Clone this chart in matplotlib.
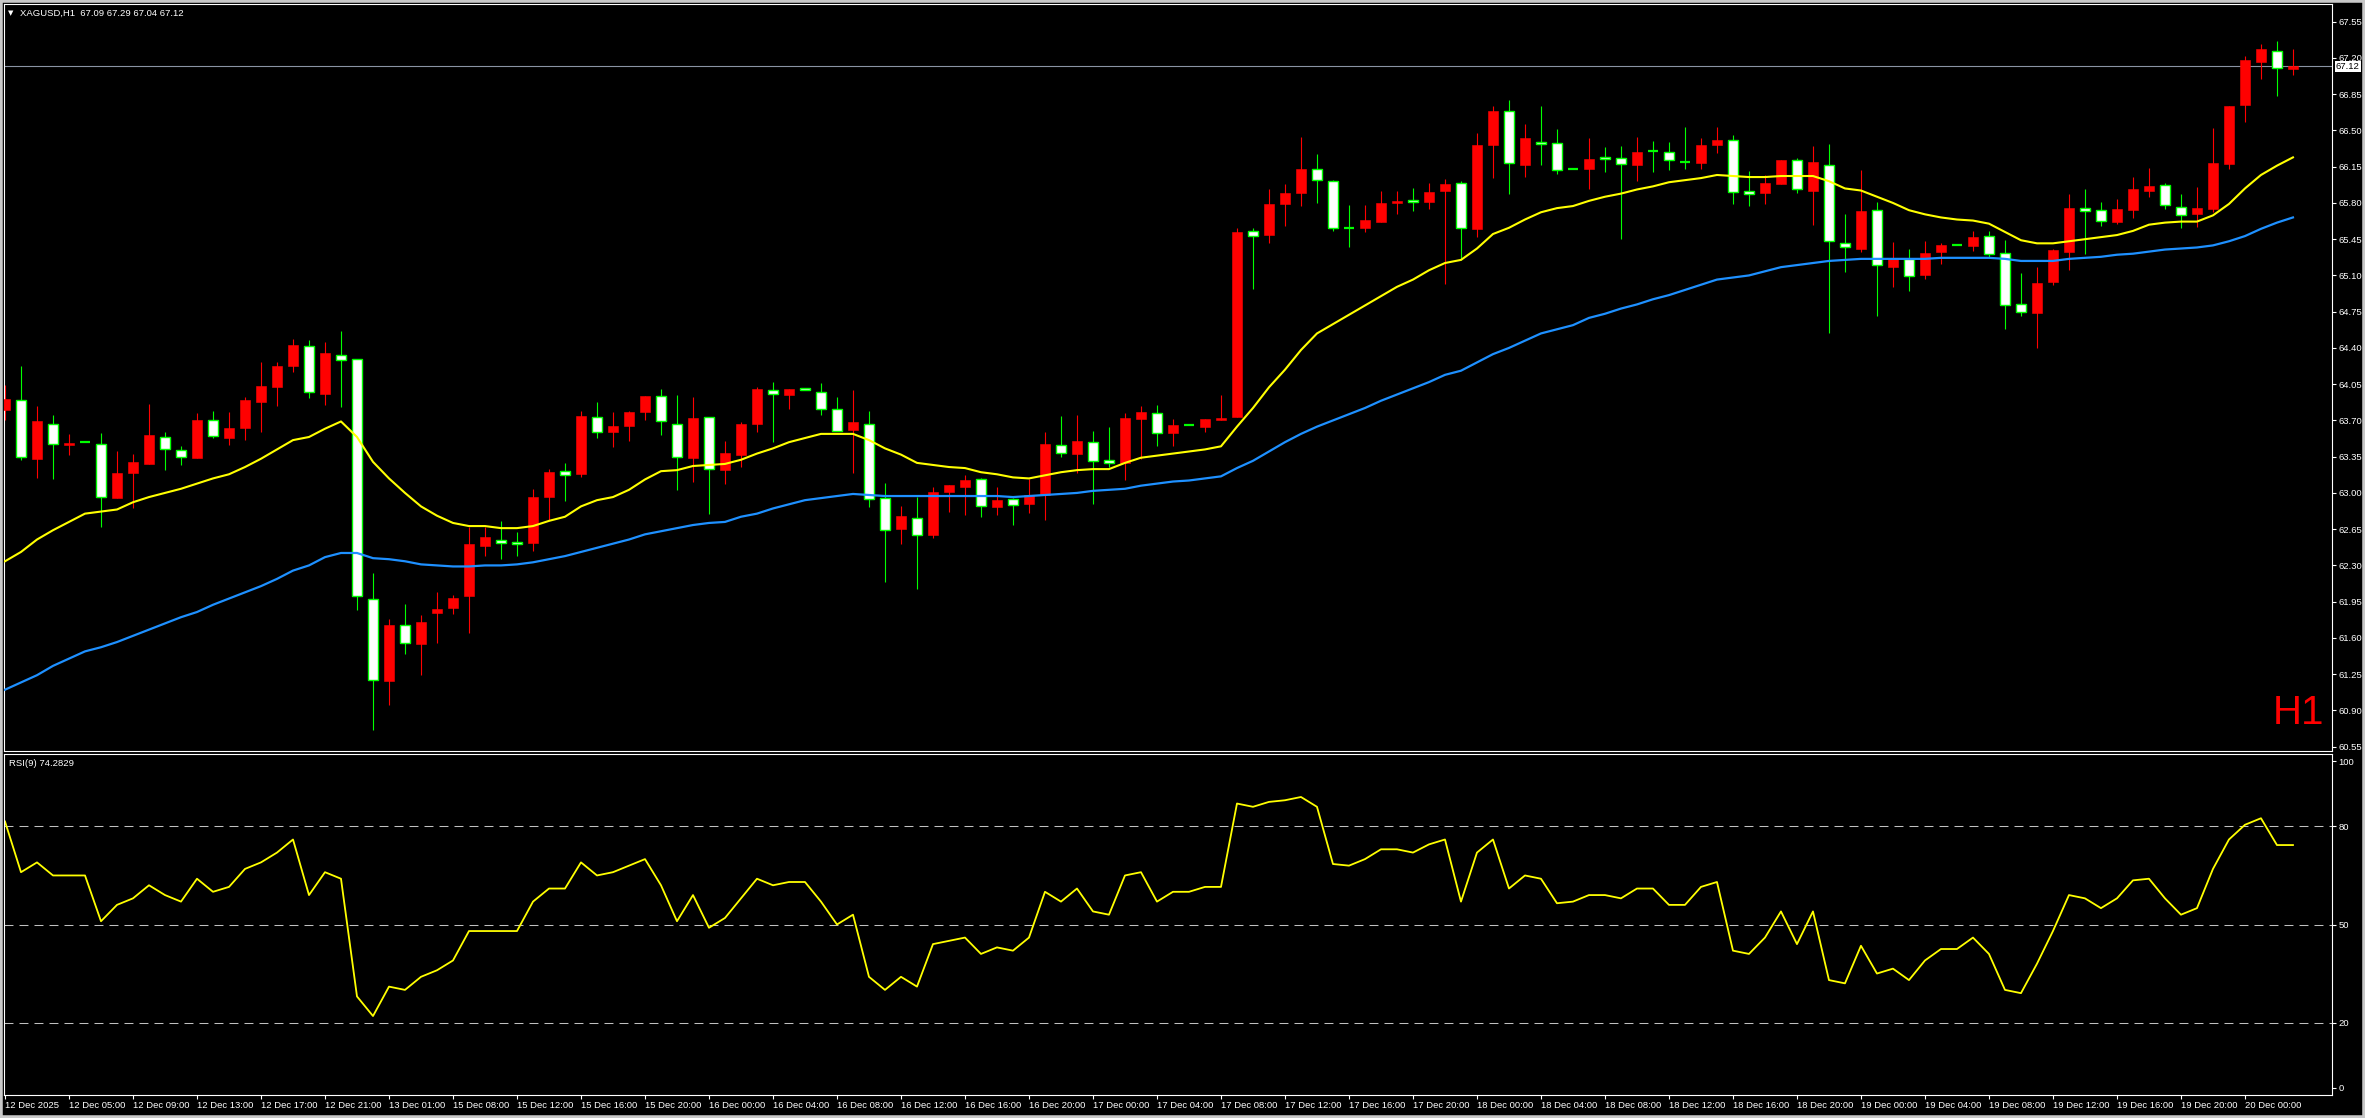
import matplotlib
matplotlib.use("Agg")
import matplotlib.pyplot as plt
from matplotlib.patches import Rectangle
from matplotlib.transforms import blended_transform_factory

# XAGUSD H1 candles, 12 Dec 2025 .. 20 Dec 2025
opens = [63.80, 63.90, 63.33, 63.67, 63.46, 63.49, 63.47, 62.95, 63.19, 63.28,
         63.54, 63.41, 63.34, 63.70, 63.53, 63.63, 63.88, 64.02, 64.23, 64.42,
         63.96, 64.33, 64.29, 61.98, 61.18, 61.72, 61.54, 61.84, 61.89, 62.00,
         62.49, 62.55, 62.53, 62.52, 62.96, 63.21, 63.18, 63.73, 63.59, 63.65,
         63.78, 63.94, 63.67, 63.34, 63.73, 63.22, 63.37, 63.67, 63.99, 63.95,
         64.01, 63.97, 63.81, 63.61, 63.67, 62.95, 62.65, 62.76, 62.59, 63.01,
         63.06, 63.13, 62.86, 62.94, 62.89, 62.98, 63.46, 63.38, 63.49, 63.32,
         63.29, 63.71, 63.77, 63.58, 63.66, 63.64, 63.70, 63.73, 65.53, 65.49,
         65.79, 65.90, 66.13, 66.01, 65.56, 65.56, 65.62, 65.80, 65.83, 65.81,
         65.92, 65.99, 65.55, 66.36, 66.69, 66.17, 66.39, 66.38, 66.13, 66.13,
         66.24, 66.23, 66.17, 66.30, 66.29, 66.20, 66.19, 66.36, 66.41, 65.92,
         65.90, 65.98, 66.21, 65.92, 66.17, 65.41, 65.36, 65.73, 65.18, 65.26,
         65.10, 65.33, 65.39, 65.38, 65.48, 65.32, 64.82, 64.74, 65.04, 65.33,
         65.75, 65.73, 65.62, 65.73, 65.92, 65.97, 65.76, 65.69, 65.74, 66.18,
         66.75, 67.16, 67.27, 67.09]
highs = [64.04, 64.23, 63.84, 63.75, 63.57, 63.49, 63.58, 63.40, 63.38, 63.86,
         63.59, 63.45, 63.77, 63.79, 63.78, 63.93, 64.26, 64.26, 64.49, 64.48,
         64.46, 64.56, 64.29, 62.23, 61.78, 61.93, 61.82, 62.04, 62.01, 62.67,
         62.67, 62.73, 62.62, 63.04, 63.23, 63.29, 63.79, 63.88, 63.78, 63.79,
         63.94, 64.00, 63.95, 63.93, 63.73, 63.50, 63.68, 64.02, 64.07, 64.00,
         64.01, 64.06, 63.93, 63.99, 63.79, 63.10, 62.87, 62.96, 63.06, 63.08,
         63.17, 63.14, 63.06, 62.95, 63.13, 63.59, 63.74, 63.75, 63.60, 63.64,
         63.77, 63.84, 63.85, 63.71, 63.66, 63.71, 63.95, 65.56, 65.56, 65.93,
         65.98, 66.44, 66.27, 66.02, 65.78, 65.78, 65.92, 65.92, 65.94, 65.99,
         66.03, 66.01, 66.48, 66.74, 66.79, 66.56, 66.74, 66.51, 66.13, 66.43,
         66.34, 66.35, 66.44, 66.40, 66.39, 66.53, 66.43, 66.53, 66.46, 66.11,
         66.07, 66.21, 66.23, 66.35, 66.37, 65.69, 66.12, 65.81, 65.42, 65.36,
         65.43, 65.41, 65.39, 65.53, 65.53, 65.44, 65.12, 65.18, 65.36, 65.89,
         65.93, 65.81, 65.84, 66.05, 66.14, 65.99, 65.89, 65.95, 66.52, 66.74,
         67.22, 67.33, 67.36, 67.29]
lows = [63.70, 63.32, 63.14, 63.13, 63.37, 63.49, 62.67, 62.95, 62.85, 63.28,
        63.22, 63.27, 63.34, 63.53, 63.46, 63.51, 63.59, 63.84, 64.17, 63.92,
        63.85, 63.83, 61.87, 60.71, 60.95, 61.44, 61.24, 61.55, 61.83, 61.65,
        62.39, 62.36, 62.39, 62.44, 62.74, 62.92, 63.15, 63.53, 63.44, 63.50,
        63.70, 63.56, 63.03, 63.11, 62.80, 63.09, 63.25, 63.59, 63.49, 63.81,
        63.99, 63.75, 63.60, 63.19, 62.86, 62.14, 62.51, 62.07, 62.56, 62.82,
        62.79, 62.77, 62.79, 62.69, 62.81, 62.74, 63.35, 63.19, 62.89, 63.25,
        63.12, 63.33, 63.45, 63.45, 63.66, 63.59, 63.70, 63.73, 64.97, 65.41,
        65.58, 65.77, 65.80, 65.53, 65.37, 65.52, 65.62, 65.69, 65.72, 65.74,
        65.02, 65.25, 65.47, 66.04, 65.89, 66.05, 66.17, 66.08, 66.13, 65.93,
        66.10, 65.45, 66.01, 66.10, 66.12, 66.13, 66.13, 66.28, 65.79, 65.77,
        65.79, 65.98, 65.90, 65.59, 64.54, 65.13, 65.33, 64.71, 64.99, 64.95,
        65.07, 65.21, 65.39, 65.34, 65.27, 64.58, 64.71, 64.40, 65.01, 65.15,
        65.31, 65.58, 65.60, 65.65, 65.86, 65.74, 65.56, 65.57, 65.71, 66.13,
        66.58, 67.00, 66.83, 67.04]
closes = [63.91, 63.35, 63.69, 63.47, 63.48, 63.49, 62.96, 63.19, 63.30, 63.56,
          63.42, 63.35, 63.70, 63.55, 63.63, 63.90, 64.03, 64.23, 64.43, 63.97,
          64.35, 64.28, 62.00, 61.19, 61.72, 61.55, 61.75, 61.88, 61.99, 62.51,
          62.57, 62.52, 62.51, 62.96, 63.20, 63.17, 63.74, 63.59, 63.65, 63.78,
          63.94, 63.69, 63.35, 63.72, 63.23, 63.39, 63.67, 64.00, 63.96, 64.00,
          63.99, 63.81, 63.60, 63.68, 62.94, 62.64, 62.78, 62.59, 63.01, 63.08,
          63.12, 62.87, 62.93, 62.88, 62.98, 63.47, 63.39, 63.50, 63.31, 63.29,
          63.72, 63.78, 63.58, 63.66, 63.66, 63.71, 63.72, 65.52, 65.48, 65.79,
          65.90, 66.13, 66.02, 65.56, 65.56, 65.64, 65.80, 65.82, 65.81, 65.91,
          65.98, 65.56, 66.36, 66.69, 66.19, 66.43, 66.37, 66.12, 66.13, 66.22,
          66.22, 66.18, 66.29, 66.30, 66.21, 66.20, 66.36, 66.41, 65.91, 65.89,
          65.99, 66.21, 65.93, 66.20, 65.43, 65.37, 65.72, 65.20, 65.26, 65.09,
          65.32, 65.39, 65.39, 65.47, 65.31, 64.81, 64.75, 65.03, 65.35, 65.75,
          65.72, 65.63, 65.74, 65.93, 65.96, 65.78, 65.68, 65.75, 66.19, 66.74,
          67.18, 67.29, 67.10, 67.12]

# moving averages (yellow fast, blue slow)
ma_fast = [62.34, 62.43, 62.55, 62.64, 62.72, 62.80, 62.82, 62.84, 62.91, 62.96,
           63.00, 63.04, 63.09, 63.14, 63.18, 63.25, 63.33, 63.42, 63.51, 63.54,
           63.62, 63.69, 63.54, 63.30, 63.14, 63.00, 62.87, 62.78, 62.71, 62.68,
           62.68, 62.66, 62.66, 62.68, 62.73, 62.77, 62.87, 62.93, 62.96, 63.03,
           63.13, 63.21, 63.22, 63.26, 63.27, 63.28, 63.32, 63.38, 63.43, 63.49,
           63.53, 63.57, 63.57, 63.57, 63.51, 63.43, 63.37, 63.29, 63.27, 63.25,
           63.24, 63.20, 63.18, 63.15, 63.14, 63.17, 63.20, 63.22, 63.23, 63.23,
           63.29, 63.34, 63.36, 63.38, 63.40, 63.42, 63.45, 63.64, 63.82, 64.02,
           64.19, 64.38, 64.54, 64.63, 64.72, 64.81, 64.90, 64.99, 65.06, 65.15,
           65.22, 65.25, 65.36, 65.50, 65.56, 65.64, 65.71, 65.75, 65.77, 65.82,
           65.86, 65.89, 65.93, 65.96, 66.00, 66.02, 66.04, 66.07, 66.06, 66.05,
           66.05, 66.06, 66.06, 66.06, 66.01, 65.94, 65.92, 65.86, 65.80, 65.73,
           65.69, 65.66, 65.64, 65.63, 65.60, 65.52, 65.44, 65.41, 65.41, 65.43,
           65.45, 65.47, 65.49, 65.53, 65.59, 65.61, 65.62, 65.62, 65.68, 65.79,
           65.94, 66.07, 66.16, 66.24]
ma_slow = [61.10, 61.17, 61.24, 61.33, 61.40, 61.47, 61.51, 61.56, 61.62, 61.68,
           61.74, 61.80, 61.85, 61.92, 61.98, 62.04, 62.10, 62.17, 62.25, 62.30,
           62.38, 62.42, 62.42, 62.37, 62.36, 62.34, 62.31, 62.30, 62.29, 62.29,
           62.30, 62.30, 62.31, 62.33, 62.36, 62.39, 62.43, 62.47, 62.51, 62.55,
           62.60, 62.63, 62.66, 62.69, 62.71, 62.72, 62.77, 62.80, 62.85, 62.89,
           62.93, 62.95, 62.97, 62.99, 62.98, 62.97, 62.97, 62.97, 62.97, 62.97,
           62.97, 62.97, 62.97, 62.96, 62.97, 62.98, 62.99, 63.00, 63.02, 63.03,
           63.04, 63.07, 63.09, 63.11, 63.12, 63.14, 63.16, 63.24, 63.31, 63.40,
           63.49, 63.57, 63.64, 63.70, 63.76, 63.82, 63.89, 63.95, 64.01, 64.07,
           64.14, 64.18, 64.26, 64.34, 64.40, 64.47, 64.54, 64.58, 64.62, 64.69,
           64.73, 64.78, 64.82, 64.87, 64.91, 64.96, 65.01, 65.06, 65.08, 65.10,
           65.14, 65.18, 65.20, 65.22, 65.24, 65.25, 65.26, 65.26, 65.26, 65.26,
           65.26, 65.27, 65.27, 65.27, 65.27, 65.26, 65.24, 65.24, 65.24, 65.26,
           65.27, 65.28, 65.30, 65.31, 65.33, 65.35, 65.36, 65.37, 65.39, 65.43,
           65.48, 65.55, 65.61, 65.66]

# RSI(9)
rsi = [81.5, 66, 69, 65, 65, 65, 51, 56, 58, 62,
       59, 57, 64, 60, 61.5, 67, 69, 72, 76, 59,
       66, 64, 28, 22, 31, 30, 34, 36, 39, 48,
       48, 48, 48, 57, 61, 61, 69, 65, 66, 68,
       70, 62, 51, 59, 49, 52, 58, 64, 62, 63,
       63, 57, 50, 53, 34, 30, 34, 31, 44, 45,
       46, 41, 43, 42, 46, 60, 57, 61, 54, 53,
       65, 66, 57, 60, 60, 61.5, 61.5, 87, 86, 87.5,
       88, 89, 86, 68.5, 68, 70, 73, 73, 72, 74.5,
       76, 57, 72, 76, 61, 65, 64, 56.5, 57, 59,
       59, 58, 61, 61, 56, 56, 61.5, 63, 42, 41,
       46, 54, 44, 54, 33, 32, 43.5, 35, 36.5, 33,
       39, 42.5, 42.5, 46, 41, 30, 29, 38, 48, 59,
       58, 55, 58, 63.5, 64, 58, 53, 55, 67, 76,
       80.5, 82.5, 74.3, 74.3]

time_labels = ["12 Dec 2025", "12 Dec 05:00", "12 Dec 09:00", "12 Dec 13:00",
               "12 Dec 17:00", "12 Dec 21:00", "13 Dec 01:00", "15 Dec 08:00",
               "15 Dec 12:00", "15 Dec 16:00", "15 Dec 20:00", "16 Dec 00:00",
               "16 Dec 04:00", "16 Dec 08:00", "16 Dec 12:00", "16 Dec 16:00",
               "16 Dec 20:00", "17 Dec 00:00", "17 Dec 04:00", "17 Dec 08:00",
               "17 Dec 12:00", "17 Dec 16:00", "17 Dec 20:00", "18 Dec 00:00",
               "18 Dec 04:00", "18 Dec 08:00", "18 Dec 12:00", "18 Dec 16:00",
               "18 Dec 20:00", "19 Dec 00:00", "19 Dec 04:00", "19 Dec 08:00",
               "19 Dec 12:00", "19 Dec 16:00", "19 Dec 20:00", "20 Dec 00:00"]
price_ticks = [60.55, 60.90, 61.25, 61.60, 61.95, 62.30, 62.65, 63.00, 63.35,
               63.70, 64.05, 64.40, 64.75, 65.10, 65.45, 65.80, 66.15, 66.50,
               66.85, 67.20, 67.55]
rsi_ticks = [0, 20, 50, 80, 100]
rsi_levels = [20, 50, 80]
last_price = 67.12

FONT = ["Liberation Sans", "DejaVu Sans"]
plt.rcParams["font.family"] = FONT
FS = 6.8
W, H = 2365, 1118


def box(x0, y0, x1, y1):
    return [x0 / W, 1 - y1 / H, (x1 - x0) / W, (y1 - y0) / H]


fig = plt.figure(figsize=(W / 100, H / 100), dpi=100, facecolor="black")
ax = fig.add_axes(box(4, 4, 2332, 751))
ax2 = fig.add_axes(box(4, 754, 2332, 1095), sharex=ax)

for a in (ax, ax2):
    a.set_facecolor("black")
    for s in a.spines.values():
        s.set_color("white")
        s.set_linewidth(0.8)

# candles
n = len(closes)
xs = list(range(n))
up = [i for i in xs if closes[i] > opens[i]]
dn = [i for i in xs if closes[i] < opens[i]]
dj = [i for i in xs if closes[i] == opens[i]]
bw = 0.68

ax.vlines(up, [lows[i] for i in up], [highs[i] for i in up], color="#ff0000", lw=0.8, zorder=2)
ax.vlines(dn + dj, [lows[i] for i in dn + dj], [highs[i] for i in dn + dj], color="#00ff00", lw=0.8, zorder=2)
ax.bar(up, [closes[i] - opens[i] for i in up], bottom=[opens[i] for i in up], width=bw,
       color="#ff0000", edgecolor="#ff0000", linewidth=0.4, zorder=3)
ax.bar(dn, [opens[i] - closes[i] for i in dn], bottom=[closes[i] for i in dn], width=bw,
       color="white", edgecolor="#00ff00", linewidth=1.0, zorder=3)
ax.hlines([closes[i] for i in dj], [i - bw / 2 for i in dj], [i + bw / 2 for i in dj],
          color="#00ff00", lw=1.6, zorder=3)

ax.plot(xs, ma_fast, color="#ffff00", lw=1.5, zorder=4)
ax.plot(xs, ma_slow, color="#1e90ff", lw=1.6, zorder=4)
ax.axhline(last_price, color="#8a93a3", lw=0.8, zorder=1)

ax.set_ylim(60.508, 67.721)
ax.set_xlim(-0.0625, 145.44)
ax.yaxis.tick_right()
ax.set_yticks(price_ticks, [f"{p:.2f}" for p in price_ticks])
ax.tick_params(axis="y", colors="white", labelsize=FS, length=3, width=0.8, pad=1.5, direction="out")
ax.tick_params(axis="x", bottom=False, labelbottom=False)

tr = blended_transform_factory(ax.transAxes, ax.transData)
ax.text(1.0017, last_price, f"{last_price:.2f}", transform=tr, color="black", fontsize=FS,
        va="center", ha="left", zorder=6,
        bbox=dict(boxstyle="square,pad=0.1", facecolor="white", edgecolor="none"))

ax.text(0.9965, 0.026, "H1", transform=ax.transAxes, color="#ff0000", fontsize=29,
        ha="right", va="bottom")

# RSI panel
for lv in rsi_levels:
    ax2.axhline(lv, color="#c0c0c0", lw=0.75, dashes=(8.6, 5.8))
ax2.plot(xs, rsi, color="#ffff00", lw=1.3)
ax2.set_ylim(-2.15, 102.15)
ax2.yaxis.tick_right()
ax2.set_yticks(rsi_ticks, [str(t) for t in rsi_ticks])
ax2.tick_params(axis="y", colors="white", labelsize=FS, length=3, width=0.8, pad=1.5)
ax2.set_xticks(list(range(0, n, 4)), time_labels, ha="left")
ax2.tick_params(axis="x", colors="white", labelsize=FS, length=3, width=0.8, pad=1.5)

fig.text(8 / W, 1 - 13 / H, "\u25bc", color="white", fontsize=5, va="center",
         family=["DejaVu Sans"])
fig.text(20 / W, 1 - 13 / H, "XAGUSD,H1  67.09 67.29 67.04 67.12", color="white",
         fontsize=FS, va="center")
fig.text(9 / W, 1 - 764 / H, "RSI(9) 74.2829", color="white", fontsize=FS, va="center")

fig.add_artist(Rectangle((0, 0), 1, 1, transform=fig.transFigure, fill=False,
                         edgecolor="#c8c8c8", lw=4))

fig.savefig("out.png", dpi=100, facecolor="black")
